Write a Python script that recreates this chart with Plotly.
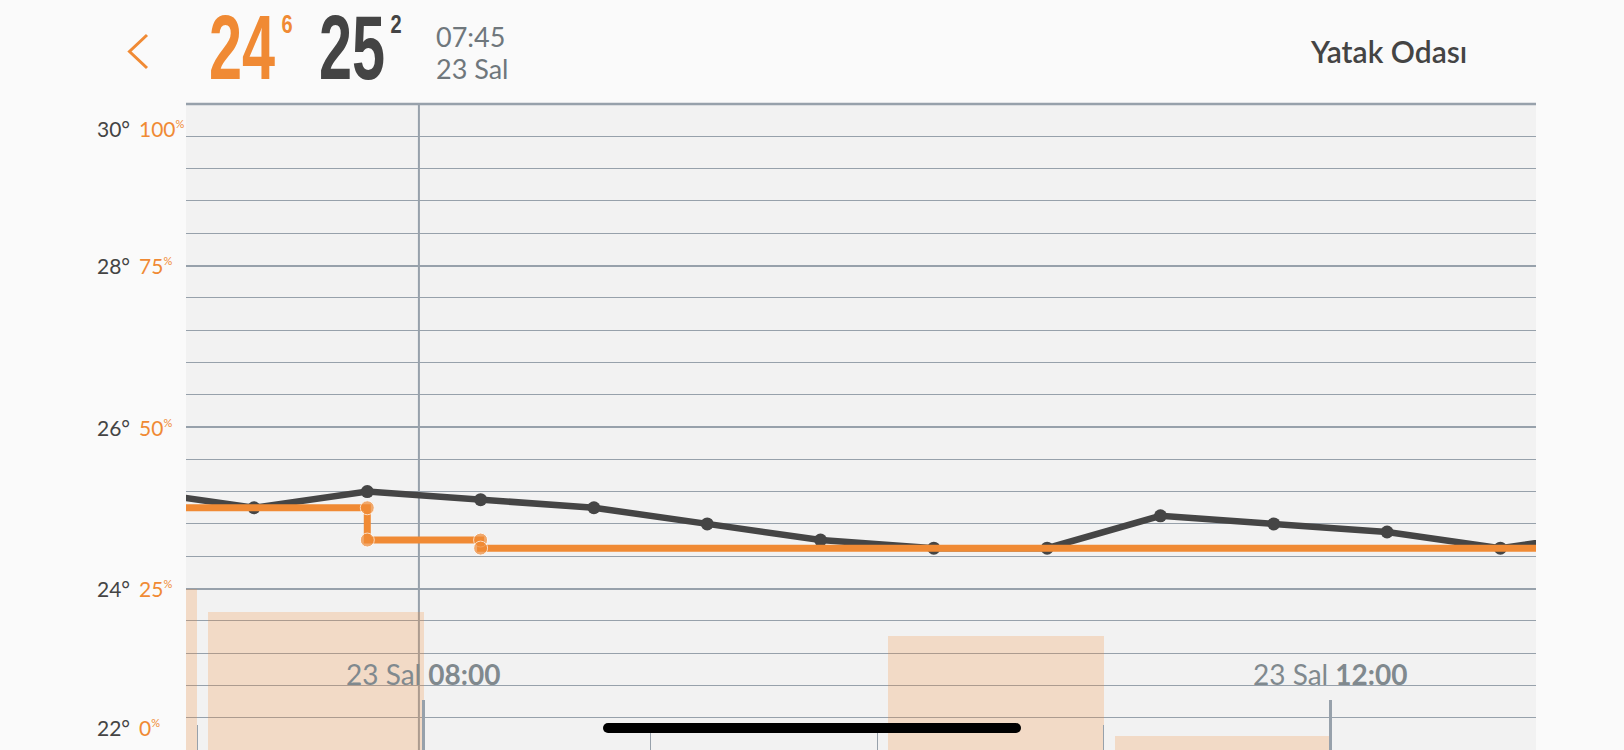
import plotly.graph_objects as go

# ---------------- data ----------------
DAY = "2024-01-23"
temp_times = ["06:45", "07:15", "07:45", "08:15", "08:45", "09:15", "09:45",
              "10:15", "10:45", "11:15", "11:45", "12:15", "12:45", "13:15"]
temp_values = [25.2, 25.0, 25.2, 25.1, 25.0, 24.8, 24.6,
               24.5, 24.5, 24.9, 24.8, 24.7, 24.5, 24.7]

set_times = ["06:15", "07:45", "07:45", "08:15", "08:15", "13:15"]
set_values = [25.0, 25.0, 24.6, 24.6, 24.5, 24.5]

bar_hours = ["06:00", "07:00", "08:00", "09:00", "10:00", "11:00", "12:00"]
bar_values = [25.0, 21.3, 0, 0, 17.6, 2.2, 0]

temp_tick_labels = [30, 28, 26, 24, 22]
hum_tick_labels = [100, 75, 50, 25, 0]
x_tick_times = ["08:00", "12:00"]
x_tick_texts = ["23 Sal <b>08:00</b>", "23 Sal <b>12:00</b>"]
x_range = ["06:57:00", "12:54:26"]
cursor_time = "07:58:40"

header_set_main, header_set_dec = "24", "6"
header_temp_main, header_temp_dec = "25", "2"
header_time = "07:45"
header_day = "23 Sal"
room_name = "Yatak Odası"

# ---------------- style ----------------
ORANGE = "#F08A34"
DARK = "#454545"
GRID = "#97a1ab"
W, H = 1624, 750
L, R, T, B = 186, 88, 104, 0
PW, PH = W - L - R, H - T - B


def t(s):
    return f"{DAY} {s}"


def px(x):
    return (x - L) / PW


def py(y):
    return (H - B - y) / PH


fig = go.Figure()

fig.add_trace(go.Bar(
    x=[t(h) for h in bar_hours], y=bar_values,
    width=[57.1 * 60000] * len(bar_hours), offset=2.9 * 60000,
    marker=dict(color="rgba(240,138,52,0.23)", line=dict(width=0)),
    yaxis="y", hoverinfo="skip", showlegend=False,
))

fig.add_trace(go.Scatter(
    x=[t(s) for s in temp_times], y=temp_values, yaxis="y2",
    mode="lines+markers", line=dict(color=DARK, width=6.5),
    marker=dict(color=DARK, size=13), showlegend=False,
))

fig.add_trace(go.Scatter(
    x=[t(s) for s in set_times], y=set_values, yaxis="y2",
    mode="lines+markers", line=dict(color=ORANGE, width=7),
    marker=dict(color=ORANGE, size=[0, 14, 14, 14, 14, 0]), showlegend=False,
))

annotations = []
for tv, hv in zip(temp_tick_labels, hum_tick_labels):
    shift = 0
    if tv == max(temp_tick_labels):
        shift = -24
    elif tv == min(temp_tick_labels):
        shift = 23
    annotations.append(dict(
        x=0, xref="paper", y=tv, yref="y2", xanchor="left", yanchor="middle",
        xshift=-91, yshift=shift, showarrow=False, text=f"{tv}°",
        font=dict(family="Lato", size=21, color="#444444"),
    ))
    annotations.append(dict(
        x=0, xref="paper", y=tv, yref="y2", xanchor="left", yanchor="middle",
        xshift=-49, yshift=shift, showarrow=False,
        text=f"{hv}<sup><span style='font-size:11px'>%</span></sup>",
        font=dict(family="Lato", size=21, color=ORANGE),
    ))

for xt, txt in zip(x_tick_times, x_tick_texts):
    annotations.append(dict(
        x=t(xt), xref="x", y=py(674), yref="paper", xanchor="center", yanchor="middle",
        showarrow=False, text=txt, font=dict(family="Lato", size=28, color="#80898e"),
    ))

BIG = "Liberation Sans, Arial, sans-serif"
annotations += [
    dict(x=px(241.5), y=py(48), text=f"<b>{header_set_main}</b>",
         font=dict(family=BIG, size=90, color=ORANGE)),
    dict(x=px(286.7), y=py(24), text=f"<b>{header_set_dec}</b>",
         font=dict(family=BIG, size=25, color=ORANGE)),
    dict(x=px(351.7), y=py(48), text=f"<b>{header_temp_main}</b>",
         font=dict(family=BIG, size=90, color="#444444")),
    dict(x=px(396.2), y=py(24), text=f"<b>{header_temp_dec}</b>",
         font=dict(family=BIG, size=25, color="#444444")),
    dict(x=px(434), y=py(36.5), xanchor="left", text=header_time,
         font=dict(family="Lato", size=27, color="#6f777c")),
    dict(x=px(434), y=py(68), xanchor="left", text=header_day,
         font=dict(family="Lato", size=27, color="#6f777c")),
    dict(x=px(1388), y=py(51), text=room_name,
         font=dict(family="Lato", size=30, weight=600, color="#444444")),
]
for a in annotations[-7:]:
    a.setdefault("xanchor", "center")
    a.update(xref="paper", yref="paper", yanchor="middle", showarrow=False)

shapes = [
    dict(type="line", xref="x", yref="paper", x0=t(cursor_time), x1=t(cursor_time),
         y0=0, y1=1, line=dict(color=GRID, width=2), layer="below"),
    dict(type="line", xref="paper", yref="paper", x0=0, x1=1, y0=1, y1=1,
         line=dict(color=GRID, width=2.5), layer="above"),
    # back chevron
    dict(type="path", xref="paper", yref="paper",
         path=f"M {px(147)},{py(35)} L {px(129.5)},{py(51.5)} L {px(147)},{py(68)}",
         line=dict(color=ORANGE, width=3)),
    # iOS home indicator
    dict(type="rect", xref="paper", yref="paper", x0=px(608), x1=px(1016),
         y0=py(733), y1=py(723), fillcolor="black", line=dict(width=0), layer="above"),
    dict(type="circle", xref="paper", yref="paper", x0=px(603), x1=px(613),
         y0=py(733), y1=py(723), fillcolor="black", line=dict(width=0), layer="above"),
    dict(type="circle", xref="paper", yref="paper", x0=px(1011), x1=px(1021),
         y0=py(733), y1=py(723), fillcolor="black", line=dict(width=0), layer="above"),
]

fig.update_layout(
    width=W, height=H,
    margin=dict(l=L, r=R, t=T, b=B, pad=0),
    paper_bgcolor="#fafafa", plot_bgcolor="#f2f2f2",
    showlegend=False, bargap=0,
    xaxis=dict(
        type="date", range=[t(x_range[0]), t(x_range[1])],
        showgrid=False, zeroline=False, showline=False, showticklabels=False,
        ticks="inside", tick0=t("00:00"), dtick=4 * 3600000,
        ticklen=50, tickwidth=3, tickcolor=GRID,
        minor=dict(ticks="inside", dtick=3600000, ticklen=25, tickwidth=1, tickcolor=GRID),
        fixedrange=True,
    ),
    yaxis=dict(
        range=[0, 100], tick0=0, dtick=25, showgrid=True, gridcolor=GRID, gridwidth=2,
        minor=dict(dtick=5, showgrid=True, gridcolor=GRID, gridwidth=1),
        showticklabels=False, ticks="", zeroline=False, showline=False, fixedrange=True,
    ),
    yaxis2=dict(range=[22, 30], overlaying="y", visible=False, fixedrange=True),
    annotations=annotations, shapes=shapes,
)

post = """
document.body.style.margin = '0';
document.body.style.background = '#fafafa';
var gd = document.getElementById('{plot_id}');
var scales = {'24': 0.66, '25': 0.66, '6': 0.8, '2': 0.8};
gd.querySelectorAll('g.annotation text').forEach(function (el) {
  var k = scales[el.textContent];
  if (k) {
    el.style.transformBox = 'fill-box';
    el.style.transformOrigin = 'center';
    el.style.transform = 'scaleX(' + k + ')';
  }
});
"""

fig.write_html("out.html", post_script=post, config={"displayModeBar": False})
